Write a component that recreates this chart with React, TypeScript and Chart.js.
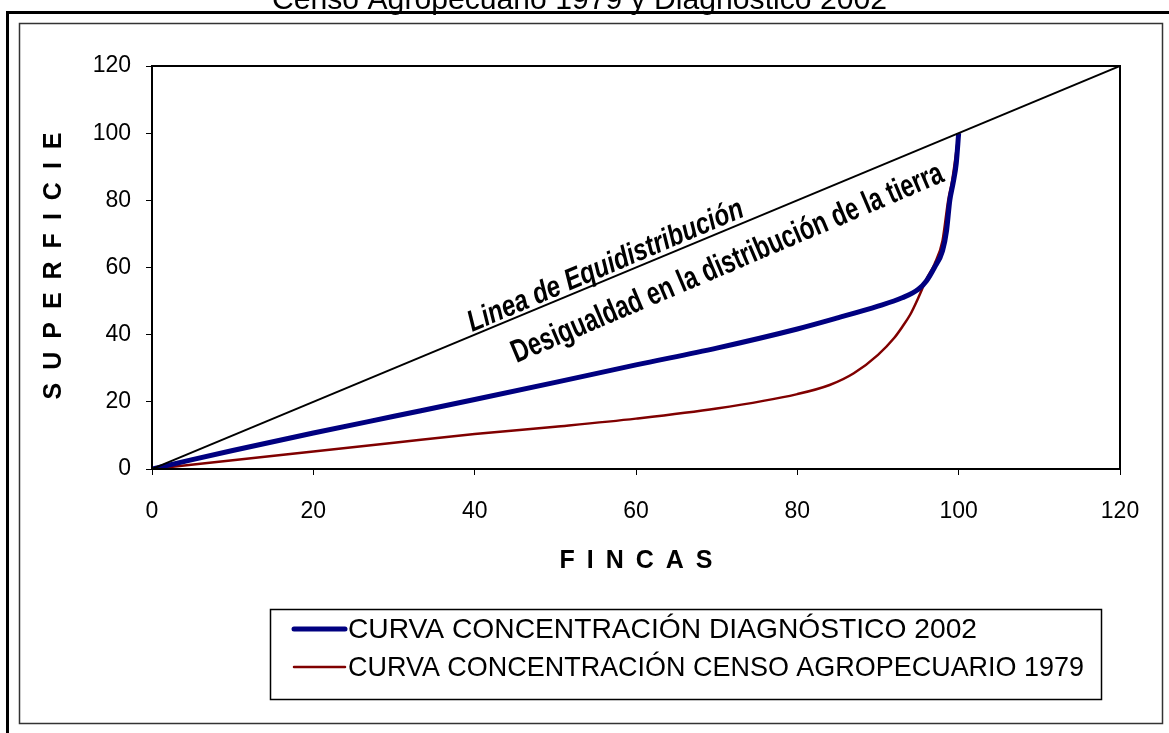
import React, { useEffect, useRef } from "react";
import { Chart, registerables } from "chart.js";

Chart.register(...registerables);

const W = 1169;
const H = 733;

const titleText = "Censo Agropecuario 1979 y Diagnóstico 2002";
const xAxisTitle = "FINCAS";
const yAxisTitle = "SUPERFICIE";
const labelEquid = "Linea de Equidistribución";
const labelDesig = "Desigualdad en la distribución de la tierra";

const seriesNames = [
  "CURVA CONCENTRACIÓN DIAGNÓSTICO 2002",
  "CURVA CONCENTRACIÓN CENSO AGROPECUARIO 1979",
];

const equidX = [0, 120];
const equidY = [0, 120];

const x2002 = [0, 5, 10, 20, 30, 40, 50, 60, 70, 80, 85, 90, 93, 95, 96, 97, 98, 98.5, 98.9, 99.3, 99.7, 100];
const y2002 = [0, 2.8, 5.5, 10.7, 15.7, 20.7, 25.8, 31, 36, 41.7, 45, 48.5, 51, 53.5, 56, 60, 65, 71, 80, 85, 91, 100];

const x1979 = [0, 10, 20, 30, 40, 50, 60, 70, 80, 84, 87, 90, 92, 93, 94, 95, 96, 97, 98, 98.7, 99.2, 100];
const y1979 = [0, 2.6, 5.2, 7.8, 10.4, 12.6, 15, 18, 22.3, 25, 28.5, 34, 39, 42.3, 46, 51, 56.5, 61, 68, 80, 86, 100];

const axisMin = 0;
const axisMax = 120;
const axisStep = 20;

const FONT = "'Liberation Sans', Arial, Helvetica, sans-serif";

function pts(xs: number[], ys: number[]) {
  return xs.map((x, i) => ({ x, y: ys[i] }));
}

function drawSpaced(ctx: CanvasRenderingContext2D, text: string, gap: number) {
  const widths = Array.from(text).map((c) => ctx.measureText(c).width);
  const total = widths.reduce((a, b) => a + b, 0) + gap * (text.length - 1);
  let x = -total / 2;
  Array.from(text).forEach((c, i) => {
    ctx.fillText(c, x, 0);
    x += widths[i] + gap;
  });
}

function fitText(ctx: CanvasRenderingContext2D, text: string, x: number, y: number, target: number) {
  const w = ctx.measureText(text).width;
  ctx.save();
  ctx.translate(x, y);
  ctx.scale(target / w, 1);
  ctx.fillText(text, 0, 0);
  ctx.restore();
}

const decorPlugin = {
  id: "decor",
  beforeDraw(chart: any) {
    const ctx = chart.ctx as CanvasRenderingContext2D;
    ctx.save();
    ctx.fillStyle = "#fff";
    ctx.fillRect(0, 0, W, H);
    // title (cut at top)
    ctx.fillStyle = "#000";
    ctx.font = `29px ${FONT}`;
    ctx.textAlign = "left";
    ctx.textBaseline = "alphabetic";
    fitText(ctx, titleText, 272, 9, 615);
    // outer thick border (top & left)
    ctx.fillRect(6, 11, W - 6, 3);
    ctx.fillRect(6, 11, 3, H - 11);
    // inner thin frame
    ctx.strokeStyle = "#333";
    ctx.lineWidth = 1.5;
    ctx.strokeRect(19.5, 23.5, 1143, 700);
    ctx.restore();
  },
  afterDraw(chart: any) {
    const ctx = chart.ctx as CanvasRenderingContext2D;
    const a = chart.chartArea;
    const xs = chart.scales.x;
    const ys = chart.scales.y;
    ctx.save();
    // plot frame
    ctx.strokeStyle = "#000";
    ctx.lineWidth = 2;
    ctx.strokeRect(a.left, a.top, a.right - a.left, a.bottom - a.top);

    // axis titles
    ctx.fillStyle = "#000";
    ctx.textAlign = "left";
    ctx.textBaseline = "middle";
    ctx.font = `bold 25px ${FONT}`;
    ctx.save();
    ctx.translate((a.left + a.right) / 2, 561);
    drawSpaced(ctx, xAxisTitle, 12);
    ctx.restore();
    ctx.save();
    ctx.translate(54, 266);
    ctx.rotate(-Math.PI / 2);
    drawSpaced(ctx, yAxisTitle, 13);
    ctx.restore();

    // rotated annotations
    const ang = (-23 * Math.PI) / 180;
    const drawRot = (text: string, dx: number, dy: number, font: string, target: number) => {
      ctx.save();
      ctx.translate(xs.getPixelForValue(dx), ys.getPixelForValue(dy));
      ctx.rotate(ang);
      ctx.font = font;
      ctx.textAlign = "left";
      ctx.textBaseline = "alphabetic";
      fitText(ctx, text, 0, 0, target);
      ctx.restore();
    };
    drawRot(labelEquid, 39.7, 40.8, `italic bold 30px ${FONT}`, 297);
    drawRot(labelDesig, 45.2, 31.6, `bold 32px ${FONT}`, 466);

    // legend
    const ds = chart.data.datasets;
    ctx.strokeStyle = "#000";
    ctx.lineWidth = 1.5;
    ctx.strokeRect(270.5, 609.5, 831, 90);
    const rows = [629, 667];
    const targets = [629, 736];
    [1, 2].forEach((di, i) => {
      const d = ds[di];
      ctx.strokeStyle = d.borderColor;
      ctx.lineWidth = d.borderWidth;
      ctx.lineCap = "round";
      ctx.beginPath();
      ctx.moveTo(294, rows[i]);
      ctx.lineTo(345, rows[i]);
      ctx.stroke();
      ctx.fillStyle = "#000";
      ctx.font = `28px ${FONT}`;
      ctx.textAlign = "left";
      ctx.textBaseline = "middle";
      fitText(ctx, d.label, 348, rows[i] + 1, targets[i]);
    });
    ctx.restore();
  },
};

export default function App() {
  const ref = useRef<HTMLCanvasElement | null>(null);
  useEffect(() => {
    const canvas = ref.current;
    if (!canvas) return;
    const tickFont = { family: FONT, size: 23 };
    const chart = new Chart(canvas, {
      type: "line",
      data: {
        datasets: [
          {
            label: "Linea de Equidistribución",
            data: pts(equidX, equidY),
            borderColor: "#000000",
            borderWidth: 2,
            pointRadius: 0,
            tension: 0,
            fill: false,
          },
          {
            label: seriesNames[0],
            data: pts(x2002, y2002),
            borderColor: "#000080",
            borderWidth: 5,
            pointRadius: 0,
            cubicInterpolationMode: "monotone",
            fill: false,
          },
          {
            label: seriesNames[1],
            data: pts(x1979, y1979),
            borderColor: "#800000",
            borderWidth: 2.5,
            pointRadius: 0,
            cubicInterpolationMode: "monotone",
            fill: false,
          },
        ],
      },
      options: {
        responsive: false,
        animation: false,
        devicePixelRatio: 1,
        parsing: false as any,
        layout: { padding: { top: 66, right: 49, left: 0, bottom: 0 } },
        plugins: {
          legend: { display: false },
          title: { display: false },
          tooltip: { enabled: false },
        },
        scales: {
          x: {
            type: "linear",
            min: axisMin,
            max: axisMax,
            ticks: { stepSize: axisStep, color: "#000", font: tickFont, padding: 23, maxRotation: 0 },
            grid: { drawOnChartArea: false, drawTicks: true, tickLength: 6, color: "#000", lineWidth: 1 },
            border: { color: "#000", width: 2 },
            afterFit: (s: any) => {
              s.height = H - 469;
            },
          },
          y: {
            type: "linear",
            min: axisMin,
            max: axisMax,
            ticks: { stepSize: axisStep, color: "#000", font: tickFont, padding: 15 },
            grid: { drawOnChartArea: false, drawTicks: true, tickLength: 6, color: "#000", lineWidth: 1 },
            border: { color: "#000", width: 2 },
            afterFit: (s: any) => {
              s.width = 152;
            },
          },
        },
      } as any,
      plugins: [decorPlugin],
    });
    return () => chart.destroy();
  }, []);
  return (
    <div style={{ position: "fixed", left: 0, top: 0, width: W, height: H, background: "#fff" }}>
      <canvas ref={ref} width={W} height={H} style={{ display: "block", width: W, height: H }} />
    </div>
  );
}
